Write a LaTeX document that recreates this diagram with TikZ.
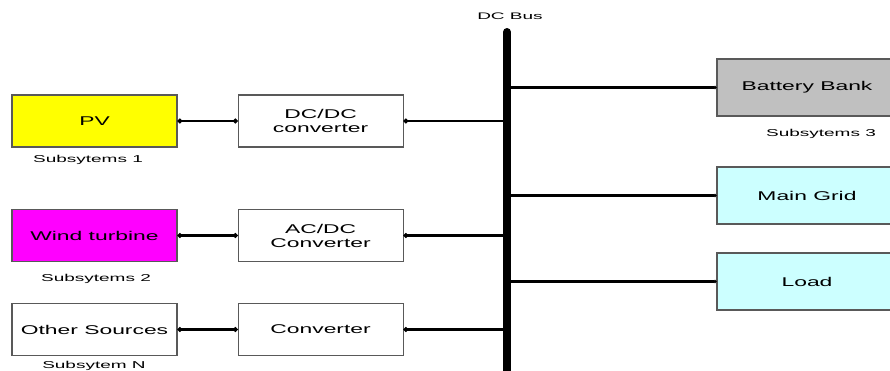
\documentclass[tikz,border=0pt]{standalone}
\usepackage{fontspec}
\setmainfont{Liberation Sans}
\newfontfamily\boxfont{Liberation Sans}[FakeStretch=1.8]
\newfontfamily\subfont{Liberation Sans}[FakeStretch=1.9]
\newfontfamily\busfont{Liberation Sans}[FakeStretch=2.0]
\usetikzlibrary{arrows.meta,positioning}
\definecolor{pvyellow}{HTML}{FFFF00}
\definecolor{windmagenta}{HTML}{FF00FF}
\definecolor{battgray}{HTML}{C0C0C0}
\definecolor{gridcyan}{HTML}{CCFFFF}

\begin{document}
\begin{tikzpicture}[x=1pt,y=-1pt,
  block/.style={draw=black!65,line width=1.1pt,minimum width=165pt,minimum height=52pt,
    inner sep=0pt,align=center,font=\boxfont\fontsize{12.7}{14}\selectfont},
  sink/.style={block,minimum width=180pt,minimum height=57pt},
  link/.style={line width=2.8pt,{Circle[length=4.5pt]}-{Circle[length=4.5pt]}},
  tap/.style={line width=2.2pt,-{Circle[length=3pt]}},
  sublabel/.style={font=\subfont\fontsize{10}{12}\selectfont}]
\useasboundingbox (0,0) rectangle (890,370);
\clip (0,0) rectangle (890,370);
% DC bus
\coordinate (bustop) at (507,32);
\coordinate (busbot) at (507,380);
\draw[line width=8pt,line cap=round] (bustop)--(busbot);
\node[font=\busfont\fontsize{9.5}{11}\selectfont] (buslabel) at (510,16) {DC Bus};
% sources and their converters
\node[block,fill=pvyellow] (pv) at (94.5,121) {PV};
\node[block,fill=windmagenta] (wind) at (94.5,235.5) {Wind turbine};
\node[block] (other) at (94.5,329.5) {Other Sources};
\node[block,right=60pt of pv] (dcdc) {DC/DC\\converter};
\node[block,right=60pt of wind] (acdc) {AC/DC\\Converter};
\node[block,right=60pt of other] (conv) {Converter};
\node[sublabel] (sub1) at (88,160) {Subsytems 1};
\node[sublabel] (sub2) at (96,279) {Subsytems 2};
\node[sublabel] (subn) at (94,366) {Subsytem N};
\foreach \s/\c in {pv/dcdc,wind/acdc,other/conv}{
  \draw[link] (\s.east)--(\c.west);
  \draw[line width=2.8pt,{Circle[length=4.5pt]}-] (\c.east)--(\c.east -| bustop);
}
% storage, grid and load
\node[sink,fill=battgray] (batt) at (807,87.5) {Battery Bank};
\node[sink,fill=gridcyan] (grid) at (807,195.5) {Main Grid};
\node[sink,fill=gridcyan] (load) at (807,281.5) {Load};
\node[sublabel] (sub3) at (821,134) {Subsytems 3};
\foreach \b in {batt,grid,load}
  \draw[tap] (\b.west -| bustop)--(\b.west);
\end{tikzpicture}
\end{document}
